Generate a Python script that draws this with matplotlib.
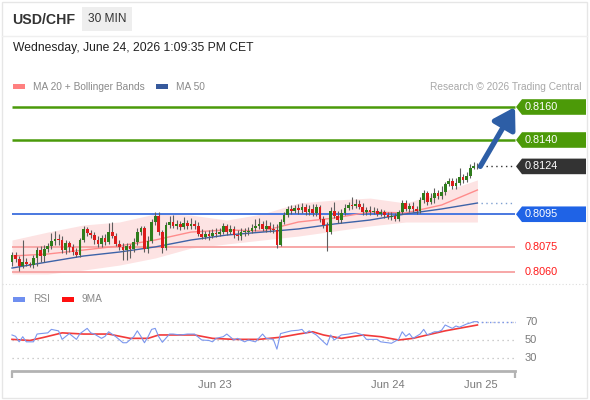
import matplotlib
matplotlib.use("Agg")
import matplotlib.pyplot as plt
import matplotlib.transforms as mtransforms
from matplotlib.patches import Polygon, Rectangle
from matplotlib.lines import Line2D
import numpy as np

plt.rcParams['font.family'] = ['Liberation Sans', 'DejaVu Sans']

# ---------------- data ----------------
symbol = "USD/CHF"
timeframe = "30 MIN"
timestamp = "Wednesday, June 24, 2026 1:09:35 PM CET"

closes = [0.80703, 0.80679, 0.80636, 0.80661, 0.80648, 0.80642, 0.80685, 0.80733, 0.80697, 0.80739,
          0.80758, 0.80788, 0.80800, 0.80794, 0.80733, 0.80776, 0.80752, 0.80721, 0.80703, 0.80794,
          0.80861, 0.80836, 0.80824, 0.80794, 0.80770, 0.80806, 0.80782, 0.80842, 0.80818, 0.80770,
          0.80752, 0.80733, 0.80758, 0.80739, 0.80782, 0.80842, 0.80867, 0.80739, 0.80788, 0.80903,
          0.80939, 0.80842, 0.80745, 0.80885, 0.80903, 0.80879, 0.80891, 0.80873, 0.80897, 0.80879,
          0.80891, 0.80879, 0.80830, 0.80812, 0.80830, 0.80818, 0.80836, 0.80830, 0.80842, 0.80879,
          0.80842, 0.80861, 0.80824, 0.80818, 0.80842, 0.80845, 0.80848, 0.80867, 0.80879, 0.80891,
          0.80861, 0.80879, 0.80861, 0.80855, 0.80764, 0.80903, 0.80945, 0.80982, 0.80970, 0.80988,
          0.80976, 0.80994, 0.80964, 0.80982, 0.80958, 0.80994, 0.80921, 0.80885, 0.80842, 0.80970,
          0.80939, 0.80915, 0.80958, 0.80988, 0.81006, 0.81000, 0.81012, 0.80994, 0.80964, 0.80976,
          0.80964, 0.80970, 0.80952, 0.80964, 0.80945, 0.80933, 0.80939, 0.80921, 0.80964, 0.81018,
          0.80982, 0.81000, 0.80982, 0.80970, 0.81036, 0.81079, 0.81024, 0.81048, 0.81079, 0.81061,
          0.81085, 0.81133, 0.81152, 0.81121, 0.81139, 0.81176, 0.81158, 0.81182, 0.81230, 0.81242,
          0.81240]
first_open = 0.80661
highs = [0.80721, 0.80721, 0.80697, 0.80794, 0.80685, 0.80661, 0.80703, 0.80752, 0.80758, 0.80764,
         0.80776, 0.80836, 0.80848, 0.80830, 0.80818, 0.80794, 0.80788, 0.80770, 0.80745, 0.80806,
         0.80879, 0.80873, 0.80855, 0.80842, 0.80818, 0.80824, 0.80830, 0.80897, 0.80903, 0.80836,
         0.80794, 0.80776, 0.80776, 0.80770, 0.80806, 0.80867, 0.80879, 0.80879, 0.80818, 0.80921,
         0.80964, 0.80964, 0.80855, 0.80903, 0.80939, 0.80945, 0.80915, 0.80909, 0.80933, 0.80915,
         0.80927, 0.80915, 0.80903, 0.80861, 0.80848, 0.80855, 0.80861, 0.80867, 0.80867, 0.80897,
         0.80891, 0.80885, 0.80879, 0.80855, 0.80867, 0.80867, 0.80873, 0.80891, 0.80921, 0.80927,
         0.80909, 0.80915, 0.80903, 0.80891, 0.80891, 0.80921, 0.80964, 0.81000, 0.81006, 0.81006,
         0.81012, 0.81018, 0.81012, 0.81006, 0.81012, 0.81012, 0.81006, 0.80939, 0.80903, 0.80994,
         0.81024, 0.80970, 0.80982, 0.81012, 0.81024, 0.81055, 0.81042, 0.81036, 0.81018, 0.80994,
         0.81000, 0.80994, 0.80988, 0.80982, 0.80976, 0.80964, 0.80964, 0.80958, 0.80976, 0.81036,
         0.81036, 0.81018, 0.81024, 0.81000, 0.81055, 0.81097, 0.81091, 0.81079, 0.81109, 0.81097,
         0.81121, 0.81145, 0.81170, 0.81170, 0.81170, 0.81230, 0.81194, 0.81206, 0.81255, 0.81267,
         0.81261]
lows = [0.80636, 0.80661, 0.80606, 0.80624, 0.80636, 0.80630, 0.80624, 0.80636, 0.80661, 0.80661,
        0.80721, 0.80739, 0.80764, 0.80764, 0.80715, 0.80709, 0.80721, 0.80703, 0.80691, 0.80691,
        0.80782, 0.80818, 0.80806, 0.80770, 0.80752, 0.80752, 0.80764, 0.80770, 0.80806, 0.80758,
        0.80733, 0.80673, 0.80673, 0.80685, 0.80721, 0.80764, 0.80824, 0.80721, 0.80715, 0.80776,
        0.80885, 0.80824, 0.80715, 0.80733, 0.80867, 0.80867, 0.80861, 0.80855, 0.80861, 0.80861,
        0.80861, 0.80861, 0.80818, 0.80800, 0.80800, 0.80794, 0.80806, 0.80812, 0.80818, 0.80830,
        0.80824, 0.80830, 0.80806, 0.80794, 0.80794, 0.80818, 0.80824, 0.80836, 0.80848, 0.80861,
        0.80848, 0.80842, 0.80842, 0.80836, 0.80745, 0.80758, 0.80891, 0.80933, 0.80952, 0.80958,
        0.80952, 0.80958, 0.80945, 0.80945, 0.80939, 0.80939, 0.80903, 0.80867, 0.80727, 0.80830,
        0.80927, 0.80897, 0.80897, 0.80945, 0.80976, 0.80982, 0.80988, 0.80982, 0.80945, 0.80945,
        0.80945, 0.80952, 0.80939, 0.80939, 0.80927, 0.80921, 0.80915, 0.80909, 0.80909, 0.80952,
        0.80970, 0.80964, 0.80964, 0.80952, 0.80958, 0.81018, 0.81006, 0.81012, 0.81018, 0.81042,
        0.81042, 0.81067, 0.81121, 0.81103, 0.81103, 0.81127, 0.81139, 0.81145, 0.81170, 0.81224,
        0.81224]

# indicator values read at sampled candles
ind_idx = [0, 10, 20, 30, 40, 50, 60, 70, 80, 90, 100, 110, 120, 130]
ma50 = [0.80624, 0.80661, 0.80697, 0.80721, 0.80752, 0.80794, 0.80824, 0.80842, 0.80861, 0.80891,
        0.80915, 0.80952, 0.80982, 0.81018]
ma20 = [0.80697, 0.80709, 0.80733, 0.80758, 0.80794, 0.80842, 0.80855, 0.80848, 0.80903, 0.80927,
        0.80964, 0.80958, 0.81006, 0.81097]
bb_upper = [0.80794, 0.80842, 0.80885, 0.80903, 0.80952, 0.80945, 0.80915, 0.80952, 0.81018, 0.81036,
            0.81048, 0.81018, 0.81085, 0.81158]
bb_lower = [0.80588, 0.80588, 0.80612, 0.80642, 0.80685, 0.80745, 0.80770, 0.80794, 0.80818, 0.80848,
            0.80879, 0.80903, 0.80903, 0.80903]

# key levels
levels = [0.8160, 0.8140, 0.8095, 0.8075, 0.8060]
level_labels = ["0.8160", "0.8140", "0.8095", "0.8075", "0.8060"]
level_kind = ["res", "res", "pivot", "sup", "sup"]
last_price = 0.8124
last_label = "0.8124"

# RSI
rsi_idx = [0, 1, 2, 3, 4, 6, 7, 8, 10, 11, 13, 14, 16, 18, 19, 21, 22, 23, 25, 26, 27, 29, 31, 32,
           34, 35, 36, 37, 38, 39, 40, 41, 42, 44, 45, 47, 49, 51, 53, 55, 56, 57, 59, 60, 62, 63,
           65, 66, 68, 70, 71, 73, 74, 75, 78, 80, 81, 82, 83, 85, 87, 88, 89, 90, 92, 94, 96, 98,
           99, 102, 103, 105, 106, 108, 109, 110, 111, 112, 114, 115, 116, 118, 119, 120, 121, 123,
           124, 125, 127, 128, 129, 130]
rsi_vals = [55.5, 54, 48, 53.6, 48, 48, 56.5, 57, 57.8, 61.6, 60, 50.7, 57, 50.7, 57, 62.7, 57.8,
            56.5, 51.8, 54, 59, 53.6, 47, 47, 53.6, 60, 54, 47, 53.6, 61.6, 62.7, 53.6, 47.5, 56.5,
            56.5, 55.5, 56.5, 56.5, 50, 49.5, 48, 51.8, 53.6, 56.5, 50, 51.8, 48, 50, 48, 56.5, 51.8,
            50.7, 40, 57, 60, 60.7, 61.6, 57, 60, 55.5, 48, 44.5, 55.5, 50, 55.5, 56.5, 58, 55.5,
            50.7, 50.7, 48, 47, 46.4, 50.7, 59, 54, 57, 51.8, 56.5, 61.6, 55.5, 59, 59, 60.7, 66.4,
            62.7, 65.3, 64, 67.5, 68.6, 70, 70]
rsi_ma_idx = [0, 5, 9, 14, 20, 27, 33, 38, 41, 51, 56, 62, 69, 75, 80, 84, 87, 92, 98, 103, 108,
              112, 116, 121, 130]
rsi_ma_vals = [50.7, 49.5, 53, 57.8, 56.5, 56.5, 51.8, 51.8, 55.5, 55.5, 51.8, 50.7, 50.7, 53,
               56.5, 59, 55.5, 51.8, 55.5, 53.6, 50, 51.8, 55.5, 60, 66.4]
rsi_levels = [70, 50, 30]

date_idx = [56.7, 104.9, 130.9]
date_labels = ["Jun 23", "Jun 24", "Jun 25"]

# ---------------- layout ----------------
W, H = 590, 400
PX = 3.58          # pixels per candle
X0 = 12            # pixel x of first candle
X_END = 515        # pixel x where lines end / tags start

def fx(px):
    return px / W

def fy(py):
    return 1 - py / H

fig = plt.figure(figsize=(W / 100, H / 100), dpi=100)
fig.patch.set_facecolor('white')

xlim = (-X0 / PX, (W - X0) / PX)
x_end_idx = (X_END - X0) / PX

# main price axes: pixel rows 97..283
main_top, main_bot = 97, 283
ax = fig.add_axes([0, fy(main_bot), 1, (main_bot - main_top) / H])
ax.set_xlim(*xlim)
ppu = 16500.0  # pixels per price unit
y_top = 0.8160 + (107 - main_top) / ppu
y_bot = 0.8060 - (main_bot - 272) / ppu
ax.set_ylim(y_bot, y_top)
ax.axis('off')

n = len(closes)
idx = np.arange(n)
opens = [first_open] + closes[:-1]
o = np.array(opens); c = np.array(closes); h = np.array(highs); l = np.array(lows)

# Bollinger band + MAs
ax.fill_between(ind_idx, bb_lower, bb_upper, color='#fde3e3', lw=0, zorder=1)
ax.plot(ind_idx, ma20, color='#ff8c8c', lw=1.0, zorder=3)
ax.plot(ind_idx, ma50, color='#3d63a8', lw=1.0, zorder=3)

# levels
kind_color = {"res": '#4a9a0a', "pivot": '#4a78e0', "sup": '#f7a7a7'}
kind_lw = {"res": 1.8, "pivot": 1.4, "sup": 1.4}
for lv, kd in zip(levels, level_kind):
    ax.plot([0, x_end_idx], [lv, lv], color=kind_color[kd], lw=kind_lw[kd], zorder=2,
            solid_capstyle='butt')

# candles
up = c >= o
ax.vlines(idx, l, h, color='#5e5e5e', lw=0.8, zorder=4)
body_lo = np.minimum(o, c)
body_h = np.maximum(np.abs(c - o), 0.00005)
ax.bar(idx[up], body_h[up], bottom=body_lo[up], width=0.75, color='#2f7d1c', lw=0, zorder=5)
ax.bar(idx[~up], body_h[~up], bottom=body_lo[~up], width=0.75, color='#dc1c1c', lw=0, zorder=5)

# dotted extensions
ax.plot([n - 1 + 2.5, x_end_idx], [last_price, last_price], color='#333333', lw=1,
        linestyle=(0, (1, 2.5)), zorder=3)
ax.plot([n - 1 + 1, x_end_idx], [ma50[-1], ma50[-1]], color='#7f9fd0', lw=1,
        linestyle=(0, (1, 2.5)), zorder=3)

# arrow
ax.annotate('', xy=(x_end_idx, levels[0]), xytext=(n - 1 + 0.8, last_price),
            arrowprops=dict(arrowstyle='-|>,head_length=0.9,head_width=0.55', lw=3.8,
                            color='#2d5ea6', shrinkA=0, shrinkB=0, mutation_scale=14),
            zorder=6)

# tags
blend = mtransforms.blended_transform_factory(ax.transAxes, ax.transData)
hh = 7.8 / ppu
tag_color = {"res": '#4c9a08', "pivot": '#1f63e6'}

def draw_tag(val, color, text, txtcolor='white'):
    pts = [(fx(X_END + 1), val), (fx(X_END + 7), val + hh), (fx(586), val + hh),
           (fx(586), val - hh), (fx(X_END + 7), val - hh)]
    ax.add_patch(Polygon(pts, closed=True, transform=blend, facecolor=color, edgecolor='none',
                         clip_on=False, zorder=7))
    ax.text(fx(525), val, text, transform=blend, color=txtcolor, fontsize=7.8,
            va='center', ha='left', zorder=8, clip_on=False)

for lv, lab, kd in zip(levels, level_labels, level_kind):
    if kd in tag_color:
        draw_tag(lv, tag_color[kd], lab)
    else:
        ax.text(fx(525), lv, lab, transform=blend, color='#ff1a1a', fontsize=7.8,
                va='center', ha='left', clip_on=False)
draw_tag(last_price, '#333333', last_label)

# ---------------- RSI axes ----------------
rsi_top, rsi_bot = 305, 370.5
ax2 = fig.add_axes([0, fy(rsi_bot), 1, (rsi_bot - rsi_top) / H])
ax2.set_xlim(*xlim)
rppu = (358.3 - 321.7) / 40.0
ax2.set_ylim(30 - (rsi_bot - 358.3) / rppu, 70 + (321.7 - rsi_top) / rppu)
for s in ['top', 'left', 'right']:
    ax2.spines[s].set_visible(False)
ax2.spines['bottom'].set_color('#b3b3b3')
ax2.spines['bottom'].set_linewidth(2)
ax2.spines['bottom'].set_bounds(0, x_end_idx)
ax2.set_yticks([])
ax2.set_xticks([0, x_end_idx], labels=['', ''])
ax2.tick_params(axis='x', which='major', length=5, width=1.6, color='#b3b3b3', direction='out')
ax2.set_xticks(date_idx, labels=date_labels, minor=True)
ax2.tick_params(axis='x', which='minor', length=0, pad=7, labelsize=8, labelcolor='#7a7a7a')
ax2.patch.set_alpha(0)

blend2 = mtransforms.blended_transform_factory(ax2.transAxes, ax2.transData)
for lv in rsi_levels:
    ax2.plot([0, x_end_idx], [lv, lv], color='#bdbdbd', lw=0.9, linestyle=(0, (1, 3)), zorder=1)
    ax2.text(fx(525), lv, str(lv), transform=blend2, color='#7a7a7a', fontsize=8,
             va='center', ha='left', clip_on=False)
ax2.plot(rsi_ma_idx, rsi_ma_vals, color='#f23a3a', lw=1.2, zorder=2)
ax2.plot(rsi_idx, rsi_vals, color='#7b97ee', lw=0.8, zorder=3)
ax2.plot([n - 1, x_end_idx], [rsi_vals[-1], rsi_vals[-1]], color='#7b97ee', lw=1,
         linestyle=(0, (1, 2)), zorder=3)

# ---------------- header & legends ----------------
fig.add_artist(Rectangle((fx(1.5), fy(397.5)), fx(587) - fx(1.5), fy(1.5) - fy(397.5),
                         transform=fig.transFigure, fill=False, ec='#e6e6e6', lw=1))
fig.add_artist(Line2D([fx(2), fx(587)], [fy(36), fy(36)], transform=fig.transFigure,
                      color='#efefef', lw=1))
fig.add_artist(Line2D([fx(2), fx(587)], [fy(283.5), fy(283.5)], transform=fig.transFigure,
                      color='#dddddd', lw=0.8, linestyle=(0, (1, 2))))

fig.text(fx(12), fy(19.5), symbol, fontsize=10.2, fontweight='bold', color='#333333',
         va='center', ha='left')
fig.add_artist(Rectangle((fx(82), fy(31)), fx(132) - fx(82), fy(7) - fy(31),
                         transform=fig.transFigure, fc='#eeeeee', ec='none'))
fig.text(fx(107), fy(19.5), timeframe, fontsize=8.6, color='#333333', va='center', ha='center')
fig.text(fx(13), fy(48.5), timestamp, fontsize=8.7, color='#222222', va='center', ha='left')

def legend_patch(x, y, color):
    fig.add_artist(Rectangle((fx(x), fy(y + 2.2)), fx(12), 4.4 / H, transform=fig.transFigure,
                             fc=color, ec='none'))

legend_patch(13, 86.5, '#ff8080')
fig.text(fx(33), fy(86.5), "MA 20 + Bollinger Bands", fontsize=7.3, color='#8a8a8a',
         va='center', ha='left')
legend_patch(156, 86.5, '#36599c')
fig.text(fx(176), fy(86.5), "MA 50", fontsize=7.3, color='#8a8a8a', va='center', ha='left')
fig.text(fx(582), fy(86.5), "Research © 2026 Trading Central", fontsize=7.3, color='#a8a8a8',
         va='center', ha='right')

legend_patch(13, 299.5, '#6f8ff0')
fig.text(fx(33), fy(299.5), "RSI", fontsize=7.3, color='#8a8a8a', va='center', ha='left')
legend_patch(62, 299.5, '#ff1010')
fig.text(fx(82), fy(299.5), "9MA", fontsize=7.3, color='#8a8a8a', va='center', ha='left')

fig.savefig('out.png', dpi=100, facecolor='white')
